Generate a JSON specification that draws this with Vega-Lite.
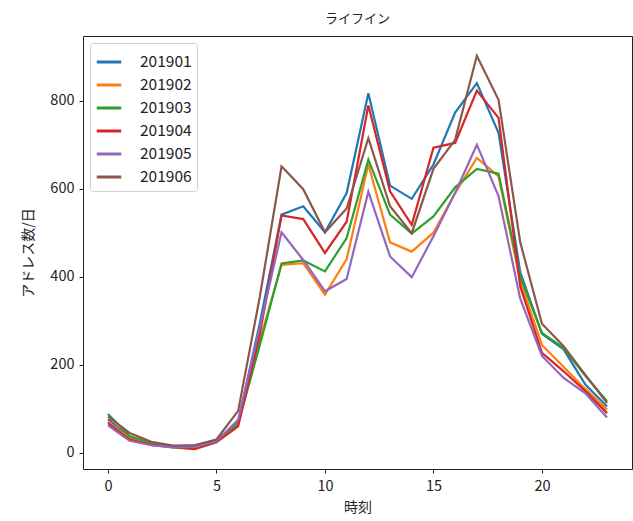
{
  "$schema": "https://vega.github.io/schema/vega-lite/v6.json",
  "autosize": {"type": "none"},
  "width": 549,
  "height": 433,
  "padding": {"left": 83, "top": 36, "right": 1, "bottom": 52},
  "background": "white",
  "title": {"text": "ライフイン", "fontSize": 13, "font": "Noto Sans CJK JP", "fontWeight": "normal", "color": "#222", "offset": 10, "anchor": "middle"},
  "config": {
    "font": "Noto Sans CJK JP",
    "view": {"stroke": "#222", "strokeWidth": 1},
    "axis": {"grid": false, "domain": false, "tickColor": "#222", "tickSize": 4, "labelFontSize": 14.5, "labelColor": "#222", "titleFontSize": 14, "titleFontWeight": "normal", "titleColor": "#222", "labelFont": "Noto Sans CJK JP", "titleFont": "Noto Sans CJK JP"}
  },
  "data": {"values": [
    {"hour": 0, "201901": 76, "201902": 70, "201903": 88, "201904": 67, "201905": 62, "201906": 82},
    {"hour": 1, "201901": 35, "201902": 33, "201903": 38, "201904": 30, "201905": 27, "201906": 45},
    {"hour": 2, "201901": 22, "201902": 20, "201903": 22, "201904": 18, "201905": 17, "201906": 25},
    {"hour": 3, "201901": 15, "201902": 14, "201903": 14, "201904": 12, "201905": 12, "201906": 16},
    {"hour": 4, "201901": 17, "201902": 14, "201903": 15, "201904": 8, "201905": 13, "201906": 17},
    {"hour": 5, "201901": 28, "201902": 25, "201903": 30, "201904": 24, "201905": 26, "201906": 30},
    {"hour": 6, "201901": 70, "201902": 65, "201903": 66, "201904": 60, "201905": 75, "201906": 95},
    {"hour": 7, "201901": 295, "201902": 255, "201903": 245, "201904": 270, "201905": 285, "201906": 355},
    {"hour": 8, "201901": 541, "201902": 427, "201903": 430, "201904": 539, "201905": 501, "201906": 651},
    {"hour": 9, "201901": 560, "201902": 431, "201903": 437, "201904": 531, "201905": 438, "201906": 599},
    {"hour": 10, "201901": 501, "201902": 359, "201903": 412, "201904": 454, "201905": 367, "201906": 501},
    {"hour": 11, "201901": 590, "201902": 440, "201903": 488, "201904": 525, "201905": 395, "201906": 555},
    {"hour": 12, "201901": 817, "201902": 655, "201903": 666, "201904": 789, "201905": 593, "201906": 715},
    {"hour": 13, "201901": 607, "201902": 478, "201903": 541, "201904": 594, "201905": 446, "201906": 560},
    {"hour": 14, "201901": 577, "201902": 457, "201903": 498, "201904": 518, "201905": 399, "201906": 499},
    {"hour": 15, "201901": 655, "201902": 500, "201903": 537, "201904": 693, "201905": 492, "201906": 645},
    {"hour": 16, "201901": 773, "201902": 590, "201903": 603, "201904": 704, "201905": 591, "201906": 711},
    {"hour": 17, "201901": 840, "201902": 670, "201903": 645, "201904": 823, "201905": 700, "201906": 902},
    {"hour": 18, "201901": 727, "201902": 628, "201903": 634, "201904": 761, "201905": 583, "201906": 802},
    {"hour": 19, "201901": 410, "201902": 390, "201903": 400, "201904": 378, "201905": 350, "201906": 478},
    {"hour": 20, "201901": 270, "201902": 245, "201903": 272, "201904": 227, "201905": 220, "201906": 293},
    {"hour": 21, "201901": 235, "201902": 195, "201903": 238, "201904": 185, "201905": 170, "201906": 242},
    {"hour": 22, "201901": 155, "201902": 145, "201903": 175, "201904": 140, "201905": 135, "201906": 177},
    {"hour": 23, "201901": 105, "201902": 98, "201903": 117, "201904": 90, "201905": 80, "201906": 113}
  ]},
  "transform": [
    {"fold": ["201901", "201902", "201903", "201904", "201905", "201906"], "as": ["month", "value"]}
  ],
  "mark": {"type": "line", "strokeWidth": 2.2, "clip": true},
  "encoding": {
    "x": {"field": "hour", "type": "quantitative", "title": "時刻",
      "scale": {"domain": [-1.15, 24.15], "nice": false, "zero": false},
      "axis": {"values": [0, 5, 10, 15, 20], "titlePadding": 8, "labelPadding": 6}},
    "y": {"field": "value", "type": "quantitative", "title": "アドレス数/日",
      "scale": {"domain": [-37, 947], "nice": false, "zero": false},
      "axis": {"values": [0, 200, 400, 600, 800], "titlePadding": 14, "labelPadding": 5}},
    "color": {"field": "month", "type": "nominal",
      "scale": {"domain": ["201901", "201902", "201903", "201904", "201905", "201906"], "range": ["#1f77b4", "#ff7f0e", "#2ca02c", "#d62728", "#9467bd", "#8c564b"]},
      "legend": {"title": null, "orient": "top-left", "offset": 7, "symbolType": "stroke", "symbolSize": 600, "symbolStrokeWidth": 3, "labelFontSize": 15.5, "labelColor": "#222", "labelFont": "Noto Sans CJK JP", "rowPadding": -4.5, "padding": 5, "fillColor": "white", "strokeColor": "#d0d0d0", "cornerRadius": 3, "labelOffset": 17}},
    "order": {"field": "month"}
  }
}
